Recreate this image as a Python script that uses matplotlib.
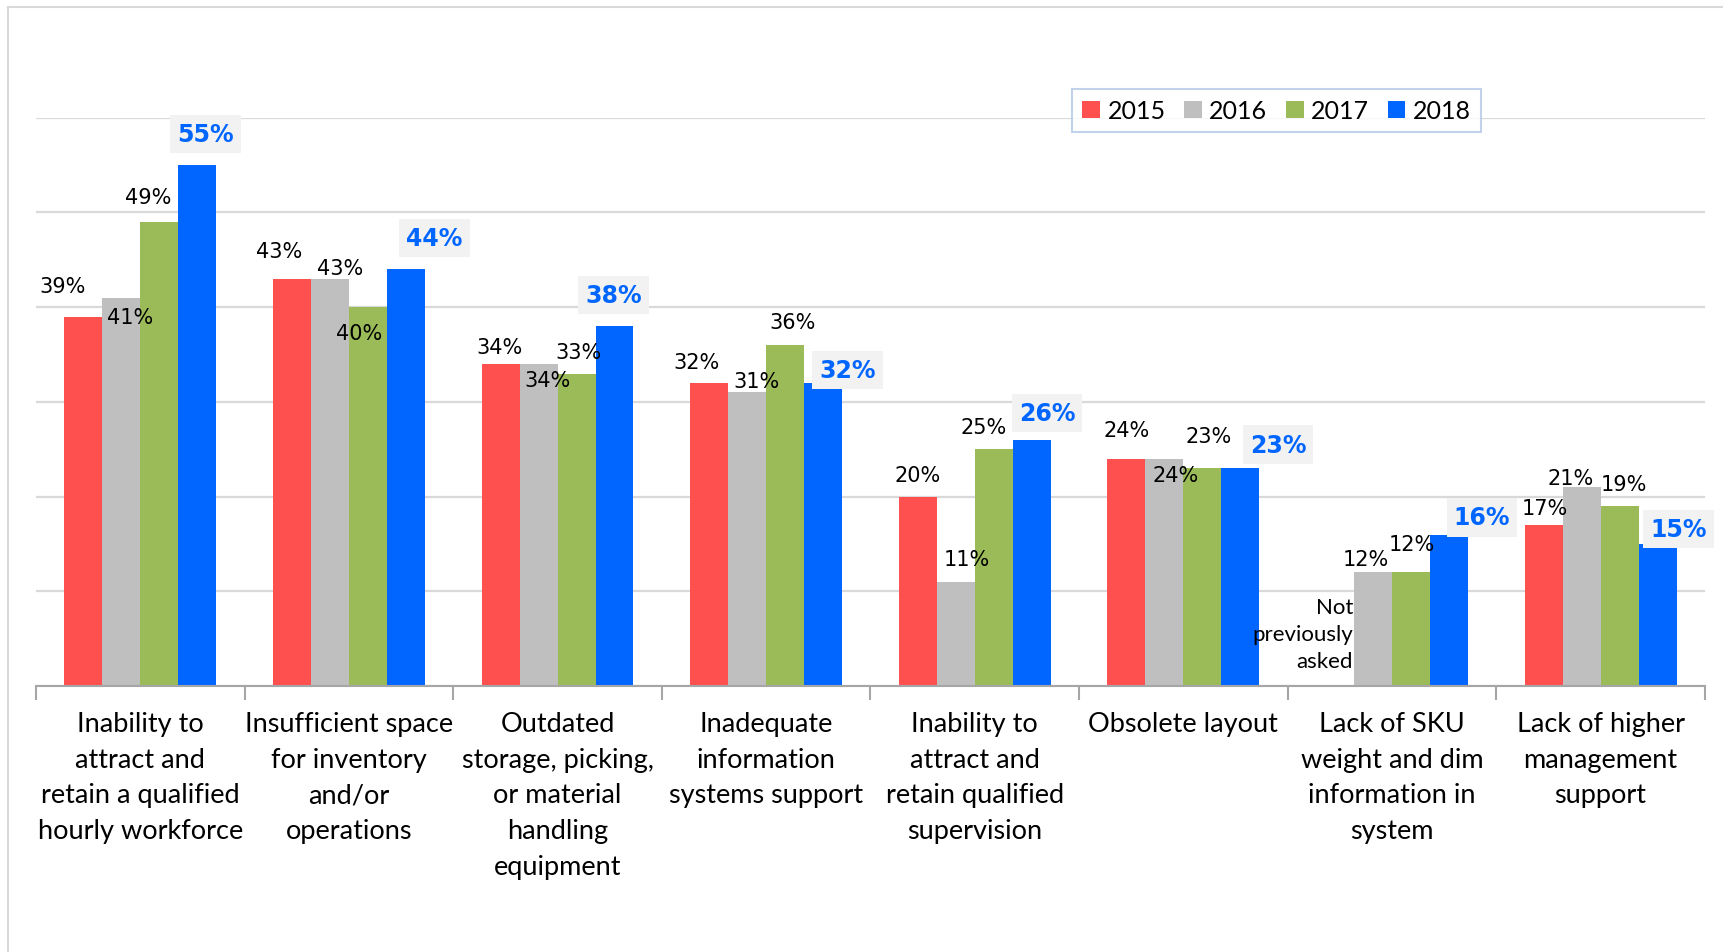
import numpy as np
import matplotlib
matplotlib.use('Agg')
import matplotlib.pyplot as plt
from matplotlib.patches import Patch
from matplotlib.lines import Line2D

# Data (percent of respondents)
categories = [
    "Inability to\nattract and\nretain a qualified\nhourly workforce",
    "Insufficient space\nfor inventory\nand/or\noperations",
    "Outdated\nstorage, picking,\nor material\nhandling\nequipment",
    "Inadequate\ninformation\nsystems support",
    "Inability to\nattract and\nretain qualified\nsupervision",
    "Obsolete layout",
    "Lack of SKU\nweight and dim\ninformation in\nsystem",
    "Lack of higher\nmanagement\nsupport",
]
years = ["2015", "2016", "2017", "2018"]
v2015 = [39, 43, 34, 32, 20, 24, None, 17]
v2016 = [41, 43, 34, 31, 11, 24, 12, 21]
v2017 = [49, 40, 33, 36, 25, 23, 12, 19]
v2018 = [55, 44, 38, 32, 26, 23, 16, 15]
series = [v2015, v2016, v2017, v2018]

colors = ['#FF5050', '#BFBFBF', '#9BBB59', '#0066FF']

# label placement (offset from category center in x, from bar top in y)
lab_dx = [
    [-0.374, -0.337, -0.279, -0.332, -0.274, -0.274, 0.0, -0.268],
    [-0.047, -0.042, -0.047, -0.047, -0.037, -0.037, -0.126, -0.142],
    [0.037, 0.047, 0.100, 0.126, 0.042, 0.121, 0.095, 0.111],
    [0.311, 0.411, 0.268, 0.389, 0.347, 0.453, 0.432, 0.374],
]
lab_dy = [
    [3.2, 2.9, 1.8, 2.2, 2.3, 3.0, 0.0, 1.8],
    [-2.0, 1.1, -1.7, 1.2, 2.4, -1.7, 1.4, 1.0],
    [2.6, -2.7, 2.3, 2.4, 2.4, 3.4, 3.0, 2.3],
    [3.3, 3.3, 3.3, 1.4, 2.8, 2.5, 1.8, 1.6],
]

fig = plt.figure(figsize=(17.23, 9.53), dpi=100)
ax = fig.add_axes([0.0209, 0.279, 0.9686, 0.5964])

x = np.arange(len(categories))
bw = 0.182
for k, vals in enumerate(series):
    xs = x + (k - 1.5) * bw
    hs = [v if v is not None else 0 for v in vals]
    ax.bar(xs, hs, width=bw, color=colors[k], linewidth=0, zorder=2)

# data labels
for k, vals in enumerate(series):
    for i, v in enumerate(vals):
        if v is None:
            continue
        tx = i + lab_dx[k][i]
        ty = v + lab_dy[k][i]
        if k == 3:
            ax.text(tx, ty, f"{v}%", ha='center', va='center', fontsize=17,
                    fontweight='bold', color='#0066FF', family='DejaVu Sans', zorder=5,
                    bbox=dict(boxstyle='square,pad=0.3', fc='#F2F2F2', ec='none'))
        else:
            ax.text(tx, ty, f"{v}%", ha='center', va='center', fontsize=15,
                    color='black', family='DejaVu Sans', zorder=5)

# note for missing 2015 value
i_na = v2015.index(None)
ax.text(i_na + (1 - 1.5) * bw - bw / 2 - 0.005, 5.5, "Not\npreviously\nasked",
        ha='right', va='center', fontsize=16, family='Lato', linespacing=1.45, zorder=5)

ax.set_xlim(-0.5, len(categories) - 0.5)
ax.set_ylim(0, 60)
ax.set_yticks(np.arange(0, 61, 10))
ax.yaxis.grid(True, color='#D9D9D9', linewidth=1.6, zorder=0)
ax.set_axisbelow(True)
ax.tick_params(axis='y', left=False, labelleft=False)

ax.set_xticks(x)
ax.set_xticklabels(categories, fontsize=19.5, family='Lato', linespacing=1.53)
ax.tick_params(axis='x', length=0, pad=18)
ax.set_xticks(np.arange(-0.5, len(categories), 1), minor=True)
ax.tick_params(axis='x', which='minor', length=10, width=1.5, color='#A6A6A6')

for s in ['top', 'right', 'left']:
    ax.spines[s].set_visible(False)
ax.spines['bottom'].set_color('#A6A6A6')
ax.spines['bottom'].set_linewidth(1.5)

handles = [Patch(facecolor=c, edgecolor='none') for c in colors]
leg = fig.legend(handles, years, loc='center', bbox_to_anchor=(0.741, 0.883), ncol=4,
                 frameon=True, fancybox=False, prop={'family': 'Lato', 'size': 18},
                 handlelength=0.7, handleheight=0.7, handletextpad=0.3,
                 columnspacing=0.75, borderpad=0.4)
leg.get_frame().set_edgecolor('#B4C7E7')
leg.get_frame().set_linewidth(1.5)

# outer chart frame (left and top edges)
fig.add_artist(Line2D([0.0045, 0.0045], [0, 0.992], color='#D9D9D9', lw=1.5,
                      transform=fig.transFigure))
fig.add_artist(Line2D([0.0045, 1.0], [0.992, 0.992], color='#D9D9D9', lw=1.5,
                      transform=fig.transFigure))

fig.savefig('out.png', dpi=100, facecolor='white')
